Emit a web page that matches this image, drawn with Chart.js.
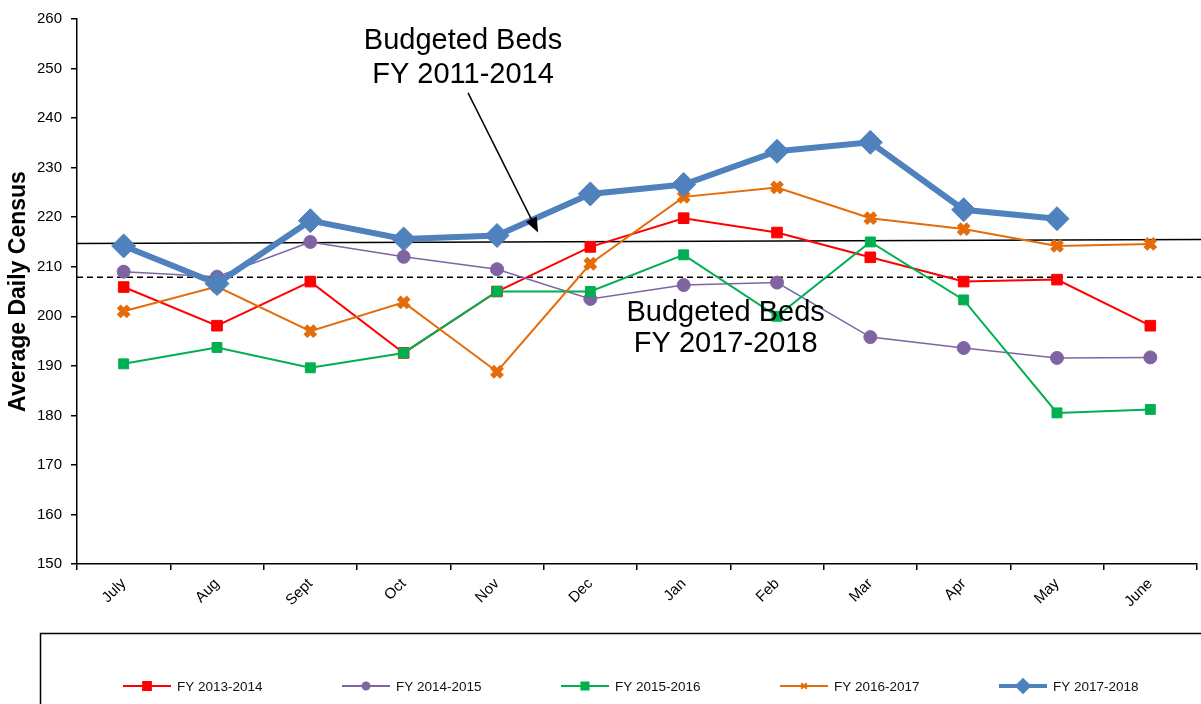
<!DOCTYPE html>
<html>
<head>
<meta charset="utf-8">
<script src="https://cdn.jsdelivr.net/npm/chart.js@4"></script>
<style>
  body { margin: 0; background: #fff; }
  #wrap { width: 1201px; height: 704px; position: relative; }
</style>
</head>
<body>
<div id="wrap"><canvas id="myChart"></canvas></div>
<script>
const months = ['July', 'Aug', 'Sept', 'Oct', 'Nov', 'Dec', 'Jan', 'Feb', 'Mar', 'Apr', 'May', 'June'];
const fy1314 = [205.9, 198.1, 207.0, 192.6, 205.0, 214.0, 219.8, 216.9, 211.9, 207.0, 207.4, 198.1];
const fy1415 = [209.0, 208.0, 215.0, 212.0, 209.5, 203.5, 206.3, 206.8, 195.8, 193.6, 191.6, 191.7];
const fy1516 = [190.4, 193.7, 189.6, 192.6, 205.0, 205.0, 212.4, 200.0, 215.0, 203.3, 180.5, 181.2];
const fy1617 = [201.0, 206.0, 197.0, 202.8, 188.8, 210.6, 224.1, 226.0, 219.8, 217.6, 214.2, 214.6];
const fy1718 = [214.2, 206.6, 219.3, 215.6, 216.3, 224.7, 226.6, 233.3, 235.1, 221.5, 219.7, null];
const seriesNames = ['FY 2013-2014', 'FY 2014-2015', 'FY 2015-2016', 'FY 2016-2017', 'FY 2017-2018'];
const yTicks = [150, 160, 170, 180, 190, 200, 210, 220, 230, 240, 250, 260];

// budget reference lines (value at left end, value at right end)
const budget1114 = [214.7, 215.5];
const budget1718 = [207.9, 207.9];

const font = '"Liberation Sans", Arial, sans-serif';

// annotations drawn over the plot, placed in data space (category index, value)
const notes = [
    {x: 3.636, y: 254.0, text: 'Budgeted Beds'},
    {x: 3.636, y: 247.1, text: 'FY 2011-2014'},
    {x: 6.45, y: 199.1, text: 'Budgeted Beds'},
    {x: 6.45, y: 192.7, text: 'FY 2017-2018'}
];
const arrowFrom = [3.69, 245.1];
const arrowTo = [4.44, 216.9];

const styles = [
    {color: '#FF0000', width: 2, point: 'rect', radius: 7.5, lr: 5.5},
    {color: '#8064A2', width: 1.5, point: 'circle', radius: 6.5, lr: 3.5},
    {color: '#00B050', width: 2, point: 'rect', radius: 7, lr: 5},
    {color: '#E46C0A', width: 2, point: 'crossRot', radius: 7, lr: 4},
    {color: '#4F81BD', width: 6, point: 'rectRot', radius: 12, lr: 5.5}
];
const allData = [fy1314, fy1415, fy1516, fy1617, fy1718];

const datasets = allData.map((d, i) => ({
    label: seriesNames[i],
    data: d,
    borderColor: styles[i].color,
    backgroundColor: styles[i].color,
    borderWidth: styles[i].width,
    pointStyle: styles[i].point,
    pointRadius: styles[i].radius,
    pointBorderWidth: styles[i].point == 'crossRot' ? 5.5 : 1,
    pointBackgroundColor: styles[i].color,
    pointBorderColor: styles[i].color,
    tension: 0,
    clip: false,
    order: i == 4 ? 0 : 5 - i
}));

const extras = {
    id: 'extras',
    beforeDatasetsDraw(chart) {
        const ctx = chart.ctx;
        const y = chart.scales.y;
        const area = chart.chartArea;
        ctx.save();
        ctx.strokeStyle = '#000';
        ctx.lineWidth = 1.5;
        ctx.beginPath();
        ctx.moveTo(area.left, y.getPixelForValue(budget1114[0]));
        ctx.lineTo(chart.width, y.getPixelForValue(budget1114[1]));
        ctx.stroke();
        ctx.setLineDash([6, 4]);
        ctx.beginPath();
        ctx.moveTo(area.left, y.getPixelForValue(budget1718[0]));
        ctx.lineTo(chart.width, y.getPixelForValue(budget1718[1]));
        ctx.stroke();
        ctx.restore();
    },
    afterDraw(chart) {
        const ctx = chart.ctx;
        const x = chart.scales.x;
        const y = chart.scales.y;
        ctx.save();
        // text notes
        ctx.fillStyle = '#000';
        ctx.font = '29px ' + font;
        ctx.textAlign = 'center';
        ctx.textBaseline = 'alphabetic';
        notes.forEach(n => ctx.fillText(n.text, x.getPixelForValue(n.x), y.getPixelForValue(n.y)));

        // arrow
        const x0 = x.getPixelForValue(arrowFrom[0]), y0 = y.getPixelForValue(arrowFrom[1]);
        const x1 = x.getPixelForValue(arrowTo[0]), y1 = y.getPixelForValue(arrowTo[1]);
        const ang = Math.atan2(y1 - y0, x1 - x0);
        ctx.strokeStyle = '#000';
        ctx.lineWidth = 1.5;
        ctx.beginPath();
        ctx.moveTo(x0, y0);
        ctx.lineTo(x1 - 12 * Math.cos(ang), y1 - 12 * Math.sin(ang));
        ctx.stroke();
        ctx.beginPath();
        ctx.moveTo(x1, y1);
        ctx.lineTo(x1 - 15 * Math.cos(ang) + 6 * Math.sin(ang), y1 - 15 * Math.sin(ang) - 6 * Math.cos(ang));
        ctx.lineTo(x1 - 15 * Math.cos(ang) - 6 * Math.sin(ang), y1 - 15 * Math.sin(ang) + 6 * Math.cos(ang));
        ctx.closePath();
        ctx.fill();

        // legend box + items
        ctx.lineWidth = 1.5;
        ctx.strokeRect(40.5, 633.5, 1200, 120);
        ctx.font = '13.5px ' + font;
        ctx.textAlign = 'left';
        ctx.textBaseline = 'middle';
        const ly = 686;
        chart.data.datasets.forEach((ds, i) => {
            const st = styles[i];
            const lx = 123 + i * 219;
            ctx.strokeStyle = st.color;
            ctx.fillStyle = st.color;
            ctx.lineWidth = i == 4 ? 4 : 2;
            ctx.beginPath();
            ctx.moveTo(lx, ly);
            ctx.lineTo(lx + 48, ly);
            ctx.stroke();
            Chart.helpers.drawPoint(ctx, {
                pointStyle: st.point,
                radius: st.lr,
                rotation: 0,
                borderWidth: st.point == 'crossRot' ? 3.5 : 1
            }, lx + 24, ly);
            ctx.fillStyle = '#111';
            ctx.fillText(ds.label, lx + 54, ly + 1);
        });
        ctx.restore();
    }
};

const ctx = document.getElementById('myChart');
const myChart = new Chart(ctx, {
    type: 'line',
    data: {
        labels: months,
        datasets: datasets
    },
    options: {
        responsive: true,
        maintainAspectRatio: false,
        animation: false,
        layout: {
            autoPadding: false,
            padding: {left: 0, top: 19, right: 4, bottom: 80}
        },
        plugins: {
            legend: {display: false},
            tooltip: {enabled: false}
        },
        scales: {
            x: {
                offset: true,
                grid: {offset: true, drawOnChartArea: false, drawTicks: true, tickLength: 6, color: '#000', lineWidth: 1.5},
                border: {color: '#000', width: 1.5},
                ticks: {
                    color: '#000',
                    font: {family: font, size: 15},
                    minRotation: 45,
                    maxRotation: 45,
                    padding: 5,
                    autoSkip: false
                },
                afterFit: s => { s.height = 60; s.paddingLeft = 0; s.paddingRight = 0; }
            },
            y: {
                min: yTicks[0],
                max: yTicks[yTicks.length - 1],
                afterBuildTicks: s => { s.ticks = yTicks.map(v => ({value: v})); },
                grid: {drawOnChartArea: false, drawTicks: true, tickLength: 6, color: '#000', lineWidth: 1.5},
                border: {color: '#000', width: 1.5},
                ticks: {
                    color: '#000',
                    font: {family: font, size: 15},
                    padding: 9
                },
                title: {
                    display: true,
                    text: 'Average Daily Census',
                    color: '#000',
                    font: {family: font, size: 23, weight: 'bold'},
                    padding: {top: 5, bottom: 0}
                },
                afterFit: s => { s.width = 77; }
            }
        }
    },
    plugins: [extras]
});
</script>
</body>
</html>
